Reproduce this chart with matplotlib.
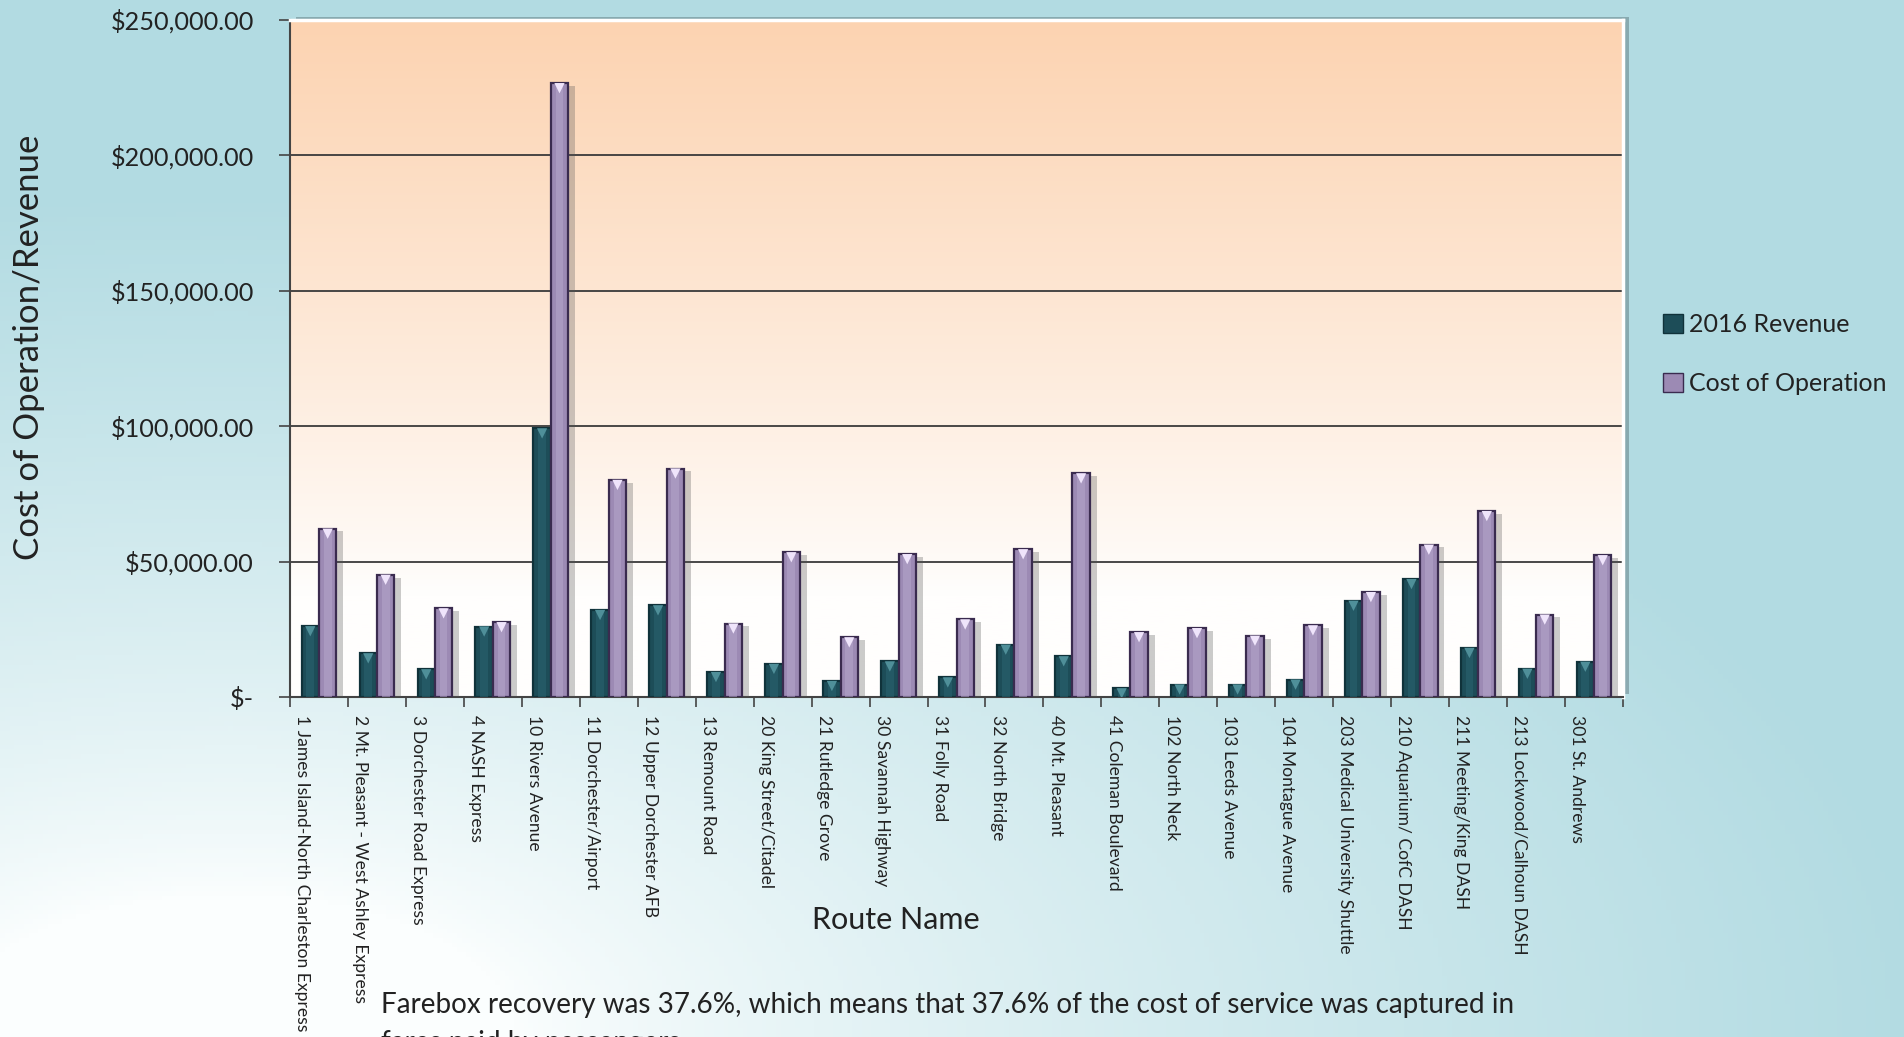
import numpy as np
import matplotlib
matplotlib.use("Agg")
import matplotlib.pyplot as plt
import matplotlib.patheffects as pe
from matplotlib.patches import Patch
from matplotlib.colors import to_rgb
from matplotlib.transforms import offset_copy

plt.rcParams['font.family'] = ['Lato', 'DejaVu Sans']

# ------------------------------------------------------------
# data
# ------------------------------------------------------------
routes = [
    "1 James Island-North Charleston Express",
    "2 Mt. Pleasant - West Ashley Express",
    "3 Dorchester Road Express",
    "4 NASH Express",
    "10 Rivers Avenue",
    "11 Dorchester/Airport",
    "12 Upper Dorchester AFB",
    "13 Remount Road",
    "20 King Street/Citadel",
    "21 Rutledge Grove",
    "30 Savannah Highway",
    "31 Folly Road",
    "32 North Bridge",
    "40 Mt. Pleasant",
    "41 Coleman Boulevard",
    "102 North Neck",
    "103 Leeds Avenue",
    "104 Montague Avenue",
    "203 Medical University Shuttle",
    "210 Aquarium/ CofC DASH",
    "211 Meeting/King DASH",
    "213 Lockwood/Calhoun DASH",
    "301 St. Andrews",
]
revenue_2016 = [26100, 16100, 10200, 26000, 99100, 32100, 33800, 9200, 12200, 5900,
                13100, 7200, 19300, 15000, 3200, 4600, 4600, 6400, 35500, 43500,
                18100, 10400, 13000]
cost_of_operation = [62100, 45100, 32700, 27600, 226500, 80100, 84300, 27100, 53400, 22000,
                     52700, 28600, 54500, 82500, 23900, 25400, 22600, 26400, 38700, 56200,
                     68600, 30400, 52300]

yticks = [0, 50000, 100000, 150000, 200000, 250000]
ytick_labels = ["$-", "$50,000.00", "$100,000.00", "$150,000.00", "$200,000.00", "$250,000.00"]

# ------------------------------------------------------------
# figure + background gradient
# ------------------------------------------------------------
W, H = 1904, 1037
fig = plt.figure(figsize=(W / 100, H / 100), dpi=100)

bg = fig.add_axes([0, 0, 1, 1], zorder=-10)
gx, gy = np.meshgrid(np.linspace(0, 1, 400), np.linspace(0, 1, 220))
r = np.sqrt(((gx - 0.12) * 1.0) ** 2 + ((gy - 0.0) * 1.1) ** 2)
t = np.clip((r - 0.15) / 0.75, 0, 1) ** 0.8
c0 = np.array(to_rgb("#fbfefe"))
c1 = np.array(to_rgb("#b2dbe2"))
img = c0[None, None, :] * (1 - t[..., None]) + c1[None, None, :] * t[..., None]
bg.imshow(img, extent=[0, 1, 0, 1], origin="lower", aspect="auto")
bg.set_axis_off()

# plot area
left, right, top, bottom = 290, 1623, 19.5, 697
ax = fig.add_axes([left / W, 1 - bottom / H, (right - left) / W, (bottom - top) / H])
ax.patch.set_visible(False)

# plot area shadow + gradient
ax.add_patch(plt.Rectangle((0, 0), 1, 1, transform=ax.transAxes, facecolor="#7a8f94",
                           edgecolor="none", zorder=-2, clip_on=False,
                           path_effects=[pe.SimplePatchShadow(offset=(4, 2), alpha=0.35, shadow_rgbFace="#3c5055")]))
py = np.linspace(0, 1, 300)[:, None]
pt = np.clip((py - 0.15) / 0.85, 0, 1) ** 0.9
p0 = np.array(to_rgb("#fffefd"))
p1 = np.array(to_rgb("#fcd3b1"))
pimg = p0[None, None, :] * (1 - pt[..., None]) + p1[None, None, :] * pt[..., None]
ax.imshow(pimg, extent=[0, 1, 0, 1], transform=ax.transAxes, origin="lower",
          aspect="auto", zorder=-1)

# ------------------------------------------------------------
# bars with a bevel-ish look
# ------------------------------------------------------------
x = np.arange(len(routes))
bw = 0.3
shadow = [pe.SimplePatchShadow(offset=(5, -2), alpha=0.3, shadow_rgbFace="#555555"), pe.Normal()]

def bevel_bars(xpos, vals, face, edge, light, tri):
    ax.bar(xpos, vals, bw, color=face, edgecolor=edge, linewidth=1.6, zorder=3,
           path_effects=shadow)
    ax.bar(xpos, vals, bw * 0.45, color=light, edgecolor="none", zorder=4, alpha=0.55)
    tr = offset_copy(ax.transData, fig=fig, x=0, y=-5, units="dots")
    ax.scatter(xpos, vals, marker="v", s=55, color=tri, edgecolor="none", zorder=5, transform=tr)

bevel_bars(x - bw / 2, revenue_2016, "#1d4d58", "#10323a", "#2b6471", "#4f8f99")
bevel_bars(x + bw / 2, cost_of_operation, "#9c8ab4", "#3a2b4f", "#b4a6ca", "#efe4fb")

ax.set_xlim(-0.5, len(routes) - 0.5)
ax.set_ylim(0, 250000)

# grid / spines
ax.set_yticks(yticks)
ax.set_yticklabels(ytick_labels, fontsize=18.2, color="#222222")
ax.yaxis.grid(True, color="#3a3a3a", linewidth=1.3, zorder=1)
ax.set_axisbelow(True)
ax.tick_params(axis="y", length=8, width=1.2, color="#444444", pad=18)

ax.set_xticks(np.arange(len(routes) + 1) - 0.5)
ax.set_xticklabels([])
ax.set_xticks(x - 0.29, minor=True)
ax.set_xticklabels(routes, minor=True, rotation=-90, ha="center", va="top",
                   fontsize=12.6, color="#222222")
ax.tick_params(axis="x", which="major", length=7, width=1.2, color="#444444")
ax.tick_params(axis="x", which="minor", length=0, pad=13)

for s in ["left", "bottom"]:
    ax.spines[s].set_color("#444444")
    ax.spines[s].set_linewidth(1.5)
for s in ["top", "right"]:
    ax.spines[s].set_color("white")
    ax.spines[s].set_linewidth(2.5)

# ------------------------------------------------------------
# text
# ------------------------------------------------------------
fig.text(29 / W, 1 - 347 / H, "Cost of Operation/Revenue", rotation=90,
         ha="center", va="center", fontsize=25, color="#222222")
fig.text(896 / W, 1 - 920 / H, "Route Name", ha="center", va="center",
         fontsize=22, color="#222222")
fig.text(381 / W, 1 - 1005 / H,
         "Farebox recovery was 37.6%, which means that 37.6% of the cost of service was captured in",
         ha="left", va="center", fontsize=20.1, color="#222222")
fig.text(381 / W, 1 - 1043 / H, "fares paid by passengers.",
         ha="left", va="center", fontsize=20.1, color="#222222")

handles = [Patch(facecolor="#1d4d58", edgecolor="#10323a", label="2016 Revenue"),
           Patch(facecolor="#9c8ab4", edgecolor="#3a2b4f", label="Cost of Operation")]
fig.legend(handles=handles, loc="center left", bbox_to_anchor=(1650 / W, 1 - 354 / H),
           frameon=False, fontsize=18, handlelength=0.8, handleheight=0.8,
           handletextpad=0.25, labelspacing=1.45, labelcolor="#222222", borderpad=0)

fig.savefig("out.png", dpi=100)
